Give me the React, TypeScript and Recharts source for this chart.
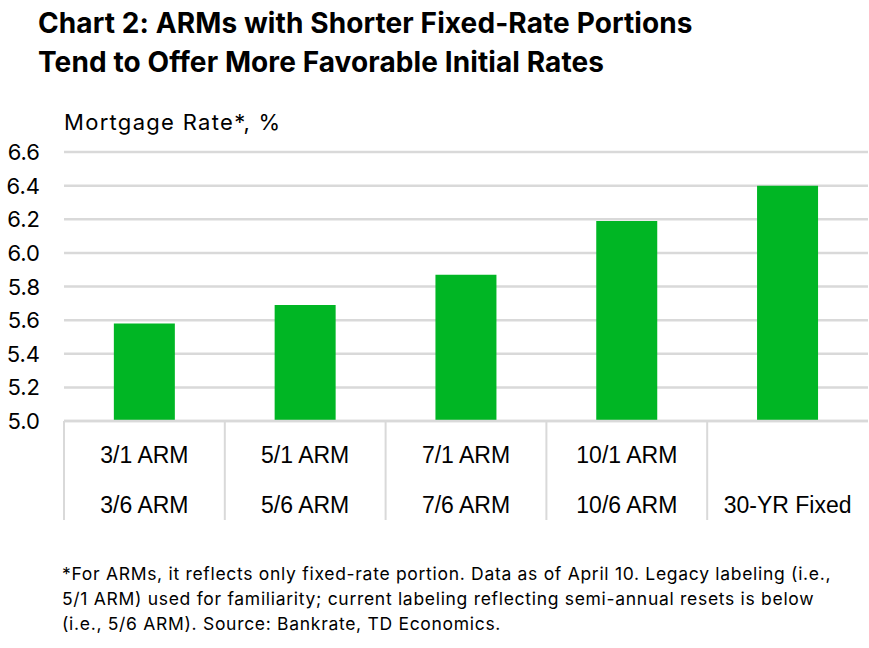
import React from "react";
import { BarChart, Bar, XAxis, YAxis, CartesianGrid } from "recharts";

const legacyLabels = ["3/1 ARM", "5/1 ARM", "7/1 ARM", "10/1 ARM", ""];
const currentLabels = ["3/6 ARM", "5/6 ARM", "7/6 ARM", "10/6 ARM", "30-YR Fixed"];
const rates = [5.58, 5.69, 5.87, 6.19, 6.4];
const yTicks = [5.0, 5.2, 5.4, 5.6, 5.8, 6.0, 6.2, 6.4, 6.6];

const data = currentLabels.map((c, i) => ({ key: c, legacy: legacyLabels[i], current: c, rate: rates[i] }));

const W = 869;
const H = 648;
const PLOT_LEFT = 64;
const PLOT_RIGHT = 868;
const PLOT_TOP = 152;
const PLOT_BOTTOM = 421;
const XAXIS_H = 100;
const BAND = (PLOT_RIGHT - PLOT_LEFT) / data.length;
const GRID = "#d9d9d9";
const FONT = "Inter, 'Noto Sans', sans-serif";
const NARROW = "'Liberation Sans Narrow', 'Liberation Sans', Arial, sans-serif";

const XTick = (props: any) => {
  const { x, payload, index } = props;
  const d = data[index] || data.find((e) => e.key === payload.value);
  const left = x - BAND / 2;
  return (
    <g>
      <line x1={left} x2={left} y1={PLOT_BOTTOM} y2={PLOT_BOTTOM + 99} stroke={GRID} strokeWidth={2} />
      <text x={x} y={PLOT_BOTTOM + 42} textAnchor="middle" fontFamily={NARROW} fontSize={23} fill="#000">
        {d ? d.legacy : ""}
      </text>
      <text x={x} y={PLOT_BOTTOM + 92} textAnchor="middle" fontFamily={NARROW} fontSize={23} fill="#000">
        {d ? d.current : ""}
      </text>
    </g>
  );
};

const YTick = (props: any) => {
  const { y, payload } = props;
  return (
    <text x={40} y={y + 8} textAnchor="end" fontFamily={FONT} fontSize={22} fill="#000">
      {Number(payload.value).toFixed(1)}
    </text>
  );
};

export default function App() {
  return (
    <div style={{ position: "absolute", left: 0, top: 0, width: W, height: H, background: "#fff", fontFamily: FONT }}>
      <div style={{ position: "absolute", left: 38, top: 4, fontSize: 28, fontWeight: 700, lineHeight: "39px", letterSpacing: 0.1, color: "#000", whiteSpace: "nowrap" }}>
        <div>Chart 2: ARMs with Shorter Fixed-Rate Portions</div>
        <div>Tend to Offer More Favorable Initial Rates</div>
      </div>
      <div style={{ position: "absolute", left: 64, top: 109, fontSize: 22, letterSpacing: 1.3, color: "#000", whiteSpace: "nowrap" }}>
        Mortgage Rate*, %
      </div>
      <div style={{ position: "absolute", left: 0, top: 0 }}>
        <BarChart
          width={W}
          height={H}
          data={data}
          margin={{ top: PLOT_TOP, right: W - PLOT_RIGHT, bottom: H - PLOT_BOTTOM - XAXIS_H, left: 0 }}
          barCategoryGap="31%"
        >
          <CartesianGrid vertical={false} stroke={GRID} strokeWidth={2.5} />
          <XAxis
            dataKey="key"
            axisLine={{ stroke: GRID, strokeWidth: 2.5 }}
            tickLine={false}
            tick={<XTick />}
            interval={0}
            height={XAXIS_H}
          />
          <YAxis
            domain={[5.0, 6.6]}
            ticks={yTicks}
            axisLine={false}
            tickLine={false}
            tick={<YTick />}
            width={PLOT_LEFT}
            interval={0}
            allowDataOverflow
          />
          <Bar dataKey="rate" fill="#00B624" isAnimationActive={false} />
        </BarChart>
      </div>
      <div style={{ position: "absolute", left: 62, top: 561, fontSize: 17.5, letterSpacing: 0.7, lineHeight: "25px", color: "#000", whiteSpace: "nowrap" }}>
        <div>*For ARMs, it reflects only fixed-rate portion. Data as of April 10. Legacy labeling (i.e.,</div>
        <div>5/1 ARM) used for familiarity; current labeling reflecting semi-annual resets is below</div>
        <div>(i.e., 5/6 ARM). Source: Bankrate, TD Economics.</div>
      </div>
    </div>
  );
}
